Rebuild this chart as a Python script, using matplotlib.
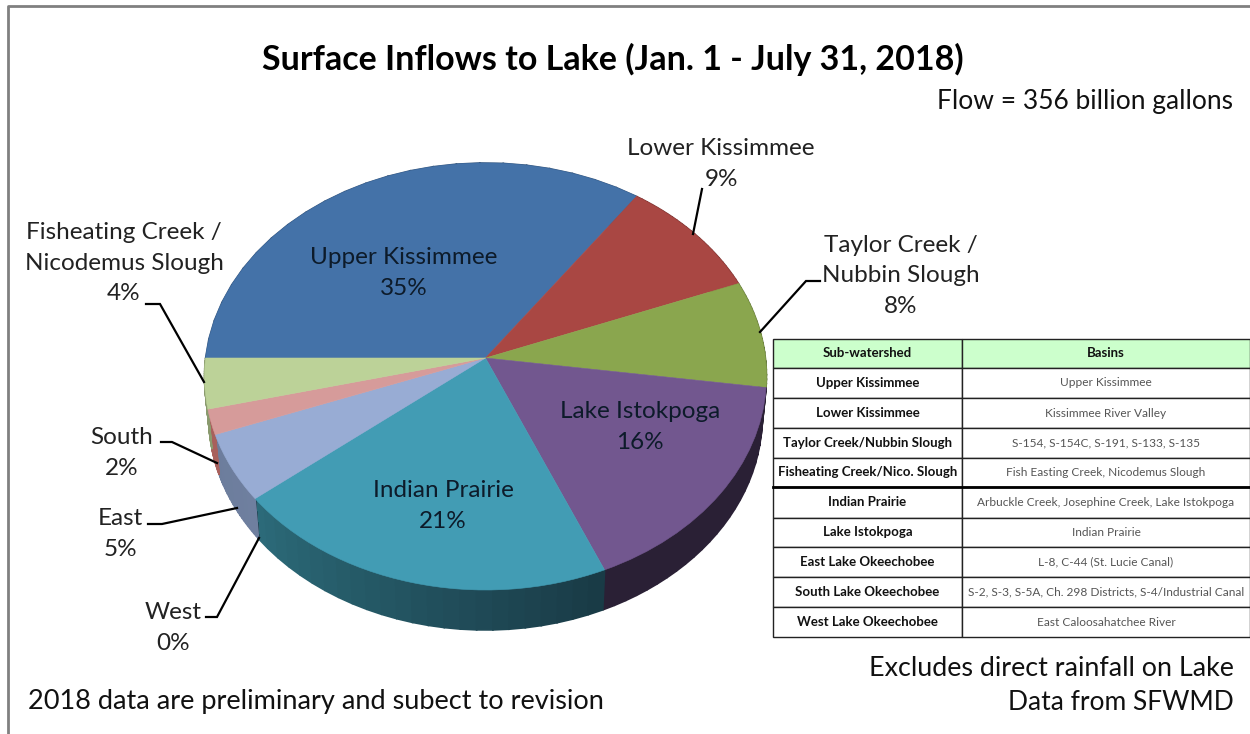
import numpy as np
import matplotlib
matplotlib.use('Agg')
import matplotlib.pyplot as plt
from matplotlib.transforms import Transform

names = ["Upper Kissimmee", "Lower Kissimmee", "Taylor Creek /\nNubbin Slough", "Lake Istokpoga",
         "Indian Prairie", "West", "East", "South", "Fisheating Creek /\nNicodemus Slough"]
shares = [34.8, 9.3, 8.1, 16.4, 20.6, 0.0, 5.1, 1.9, 3.8]

table_head = ["Sub-watershed", "Basins"]
table_watershed = ["Upper Kissimmee", "Lower Kissimmee", "Taylor Creek/Nubbin Slough",
                   "Fisheating Creek/Nico. Slough", "Indian Prairie", "Lake Istokpoga",
                   "East Lake Okeechobee", "South Lake Okeechobee", "West Lake Okeechobee"]
table_basins = ["Upper Kissimmee", "Kissimmee River Valley", "S-154, S-154C, S-191, S-133, S-135",
                "Fish Easting Creek, Nicodemus Slough", "Arbuckle Creek, Josephine Creek, Lake Istokpoga",
                "Indian Prairie", "L-8, C-44 (St. Lucie Canal)",
                "S-2, S-3, S-5A, Ch. 298 Districts, S-4/Industrial Canal", "East Caloosahatchee River"]

# styles
face_colors = ['#4472a8', '#a94743', '#8aa64e', '#72578f', '#429cb4', '#429cb4', '#98acd4', '#d69b9a', '#bcd298']
wall_start = ['#2f5078', '#7a3230', '#637838', '#2a2035', '#2c6b7a', '#2c6b7a', '#6c7d9c', '#a8605c', '#8a9a6e']
wall_end = ['#2f5078', '#7a3230', '#637838', '#2a2035', '#193a45', '#193a45', '#6f7f9f', '#a8605c', '#8a9a6e']
label_xy = [(404, 273), (721, 164), (901, 276), (640, 427), (443, 506), (173, 628), (120, 534), (122, 453), (124, 263)]
inner = [True, False, False, True, True, False, False, False, False]
leaders = [[(702, 189), (693, 234)],
           [(820, 281), (806, 281), (760, 332)],
           [(146, 304), (160, 304), (204, 382)],
           [(161, 442), (172, 442), (217, 463)],
           [(148, 524), (162, 524), (237, 508)],
           [(206, 617), (217, 617), (259, 538)]]

plt.rcParams['font.family'] = ['Lato', 'DejaVu Sans']

CX, CY, RX, RY, K = 485.5, 358.0, 279.9, 211.9, 0.0866
DEPTH = 40.0


class Persp(Transform):
    # unit disc of the pie -> pixel position of the tilted disc
    input_dims = 2
    output_dims = 2

    def __init__(self, scale=1.0, drop=0.0):
        super().__init__()
        self.scale = scale
        self.drop = drop

    def transform_non_affine(self, values):
        u, v = np.asarray(values).T
        w = 1 + K * v
        return np.column_stack([CX + self.scale * RX * u / w, CY + self.drop - RY * v / w])


fig = plt.figure(figsize=(12.5, 7.34), dpi=100)
ax = fig.add_axes([0, 0, 1, 1])

wedges, _ = ax.pie(shares, colors=face_colors, startangle=180, counterclock=False,
                   wedgeprops={'linewidth': 0.4, 'zorder': 3})
ax.set_aspect('auto')
ax.set_xlim(0, 1250)
ax.set_ylim(734, 0)

top = Persp() + ax.transData
ring_top, ring_low = Persp(), Persp(0.985, DEPTH)
for i, w in enumerate(wedges):
    w.set_transform(top)
    w.set_edgecolor(face_colors[i])
    # side wall, cut in facets so the shade can change along it
    t = np.radians(np.linspace(w.theta1, w.theta2, 25))
    c0 = np.array(matplotlib.colors.to_rgb(wall_start[i]))
    c1 = np.array(matplotlib.colors.to_rgb(wall_end[i]))
    for j in range(len(t) - 1):
        uv = np.column_stack([np.cos(t[j:j + 2]), np.sin(t[j:j + 2])])
        upper = ring_top.transform_non_affine(uv)
        lower = ring_low.transform_non_affine(uv)
        poly = np.vstack([upper, lower[::-1]])
        f = (j + 0.5) / (len(t) - 1)
        col = c0 + (c1 - c0) * f
        ax.fill(poly[:, 0], poly[:, 1], color=col, lw=1.2, zorder=2)

for i, n in enumerate(names):
    txt = "%s\n%.0f%%" % (n, shares[i])
    ax.text(label_xy[i][0], label_xy[i][1], txt, ha='center', va='center', fontsize=17.5, linespacing=1.55,
            color='#0d1b2a' if inner[i] else '#222222', zorder=5)

for pts in leaders:
    xs, ys = zip(*pts)
    ax.plot(xs, ys, color='black', lw=1.6, zorder=4, solid_joinstyle='miter')

# frame of the screenshot
ax.plot([8, 8, 1250], [734, 6, 6], color='#808080', lw=2, zorder=1)

ax.text(613, 59, "Surface Inflows to Lake (Jan. 1 - July 31, 2018)", ha='center', va='center',
        fontsize=24.5, fontweight='bold', color='black')
ax.text(1233, 101, "Flow = 356 billion gallons", ha='right', va='center', fontsize=19, color='#111111')
ax.text(1234, 668, "Excludes direct rainfall on Lake", ha='right', va='center', fontsize=19.4, color='#111111')
ax.text(1234, 703, "Data from SFWMD", ha='right', va='center', fontsize=19, color='#111111')
ax.text(28, 702, "2018 data are preliminary and subect to revision", ha='left', va='center', fontsize=19.5, color='#111111')

# table
rows = [[a, b] for a, b in zip(table_watershed, table_basins)]
row_lines = [339, 367.7, 398.3, 428.3, 457.7, 487.3, 517.7, 547.3, 576.7, 607.3, 636.7]
tab = ax.table(cellText=rows, colLabels=table_head, colWidths=[189 / 477, 288 / 477],
               cellLoc='center', colLoc='center',
               bbox=[773 / 1250, 1 - 636.7 / 734, 477 / 1250, 297.7 / 734])
tab.auto_set_font_size(False)
for (r, c), cell in tab.get_celld().items():
    cell.set_height(row_lines[r + 1] - row_lines[r])
    cell.set_linewidth(1.0)
    cell.set_edgecolor('#222222')
    if r == 0:
        cell.set_facecolor('#ccffcc')
    bold = c == 0 or r == 0
    cell.get_text().set(fontsize=9.5 if bold else 8.6, fontweight='bold' if bold else 'normal',
                        color='#111111' if bold else '#555555')
ax.plot([773, 1250], [487.3, 487.3], color='black', lw=2, zorder=11)

fig.savefig('out.png', dpi=100)
